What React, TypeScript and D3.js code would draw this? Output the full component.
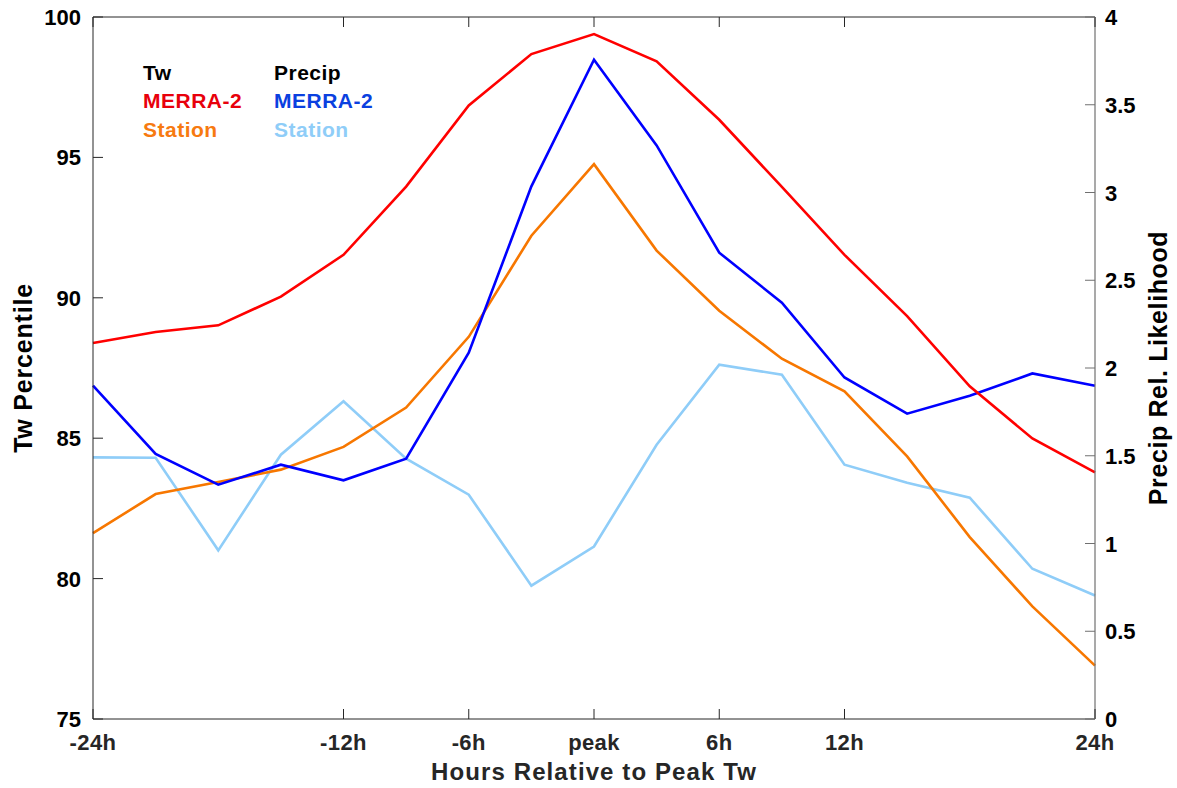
import React from "react";
import * as d3 from "d3";

const hours = [-24, -21, -18, -15, -12, -9, -6, -3, 0, 3, 6, 9, 12, 15, 18, 21, 24];
const twMerra = [88.39, 88.78, 89.02, 90.04, 91.53, 93.96, 96.85, 98.68, 99.39, 98.42, 96.34, 93.95, 91.53, 89.35, 86.85, 84.99, 83.78];
const twStation = [81.62, 83.01, 83.44, 83.88, 84.69, 86.09, 88.61, 92.21, 94.76, 91.68, 89.54, 87.83, 86.67, 84.35, 81.48, 79.01, 76.9];
const prMerra = [1.9, 1.51, 1.335, 1.449, 1.36, 1.483, 2.087, 3.035, 3.757, 3.268, 2.657, 2.372, 1.946, 1.74, 1.842, 1.969, 1.899];
const prStation = [1.491, 1.489, 0.961, 1.506, 1.81, 1.483, 1.278, 0.76, 0.983, 1.563, 2.019, 1.962, 1.449, 1.346, 1.261, 0.856, 0.704];
const xTicks = [-24, -12, -6, 0, 6, 12, 24];
const xTickLabels = ["-24h", "-12h", "-6h", "peak", "6h", "12h", "24h"];
const leftTicks = [75, 80, 85, 90, 95, 100];
const rightTicks = [0, 0.5, 1, 1.5, 2, 2.5, 3, 3.5, 4];

const W = 1177, H = 788;
const L = 93, R = 1095, T = 17, B = 719;
const FONT = "'Liberation Sans', Arial, Helvetica, sans-serif";

export default function App() {
  const x = d3.scaleLinear().domain([-24, 24]).range([L, R]);
  const yL = d3.scaleLinear().domain([75, 100]).range([B, T]);
  const yR = d3.scaleLinear().domain([0, 4]).range([B, T]);
  const lineL = d3.line<number>().x((_, i) => x(hours[i])).y((d) => yL(d));
  const lineR = d3.line<number>().x((_, i) => x(hours[i])).y((d) => yR(d));
  const tk = 10;
  const ax = "#262626";
  const rax = "#707070";
  return (
    <svg width={W} height={H} style={{ position: "absolute", left: 0, top: 0, background: "#fff" }} fontFamily={FONT}>
      <rect x={0} y={0} width={W} height={H} fill="#fff" />
      <path d={lineR(prStation) || ""} fill="none" stroke="#8fcdf8" strokeWidth={2.6} />
      <path d={lineL(twStation) || ""} fill="none" stroke="#f77700" strokeWidth={2.6} />
      <path d={lineR(prMerra) || ""} fill="none" stroke="#0000ff" strokeWidth={2.6} />
      <path d={lineL(twMerra) || ""} fill="none" stroke="#ff0000" strokeWidth={2.6} />
      {/* box */}
      <line x1={L} x2={R} y1={T} y2={T} stroke={ax} strokeWidth={1} />
      <line x1={L} x2={R} y1={B} y2={B} stroke={ax} strokeWidth={1} />
      <line x1={L} x2={L} y1={T} y2={B} stroke={ax} strokeWidth={1} />
      <line x1={R} x2={R} y1={T} y2={B} stroke={rax} strokeWidth={1.2} />
      {xTicks.map((t, i) => (
        <g key={"x" + t}>
          <line x1={x(t)} x2={x(t)} y1={B} y2={B - tk} stroke={ax} />
          <line x1={x(t)} x2={x(t)} y1={T} y2={T + tk} stroke={ax} />
          <text x={x(t)} y={750} textAnchor="middle" fontSize={22} fontWeight="bold" fill={ax} letterSpacing={0.4}>{xTickLabels[i]}</text>
        </g>
      ))}
      {leftTicks.map((t) => (
        <g key={"l" + t}>
          <line x1={L} x2={L + tk} y1={yL(t)} y2={yL(t)} stroke={ax} />
          <text x={81} y={yL(t) + 8} textAnchor="end" fontSize={22} fontWeight="bold" fill="#000">{t}</text>
        </g>
      ))}
      {rightTicks.map((t) => (
        <g key={"r" + t}>
          <line x1={R} x2={R - tk} y1={yR(t)} y2={yR(t)} stroke={rax} />
          <text x={1105} y={yR(t) + 8} textAnchor="start" fontSize={22} fontWeight="bold" fill="#000">{t}</text>
        </g>
      ))}
      <text x={(L + R) / 2} y={780} textAnchor="middle" fontSize={24} fontWeight="bold" fill={ax} letterSpacing={1.1}>Hours Relative to Peak Tw</text>
      <text transform={`translate(32,${(T + B) / 2}) rotate(-90)`} textAnchor="middle" fontSize={25} fontWeight="bold" fill="#000" letterSpacing={0.8}>Tw Percentile</text>
      <text transform={`translate(1167,${(T + B) / 2}) rotate(-90)`} textAnchor="middle" fontSize={25} fontWeight="bold" fill="#000" letterSpacing={0.6}>Precip Rel. Likelihood</text>
      {/* legend */}
      <g fontSize={21} fontWeight="bold" letterSpacing={0.5}>
        <text x={143} y={80} fill="#000">Tw</text>
        <text x={143} y={108} fill="#e8000b">MERRA-2</text>
        <text x={143} y={137} fill="#f77a10">Station</text>
        <text x={274} y={80} fill="#000">Precip</text>
        <text x={274} y={108} fill="#0a40e0">MERRA-2</text>
        <text x={274} y={137} fill="#8fcdf8">Station</text>
      </g>
    </svg>
  );
}
